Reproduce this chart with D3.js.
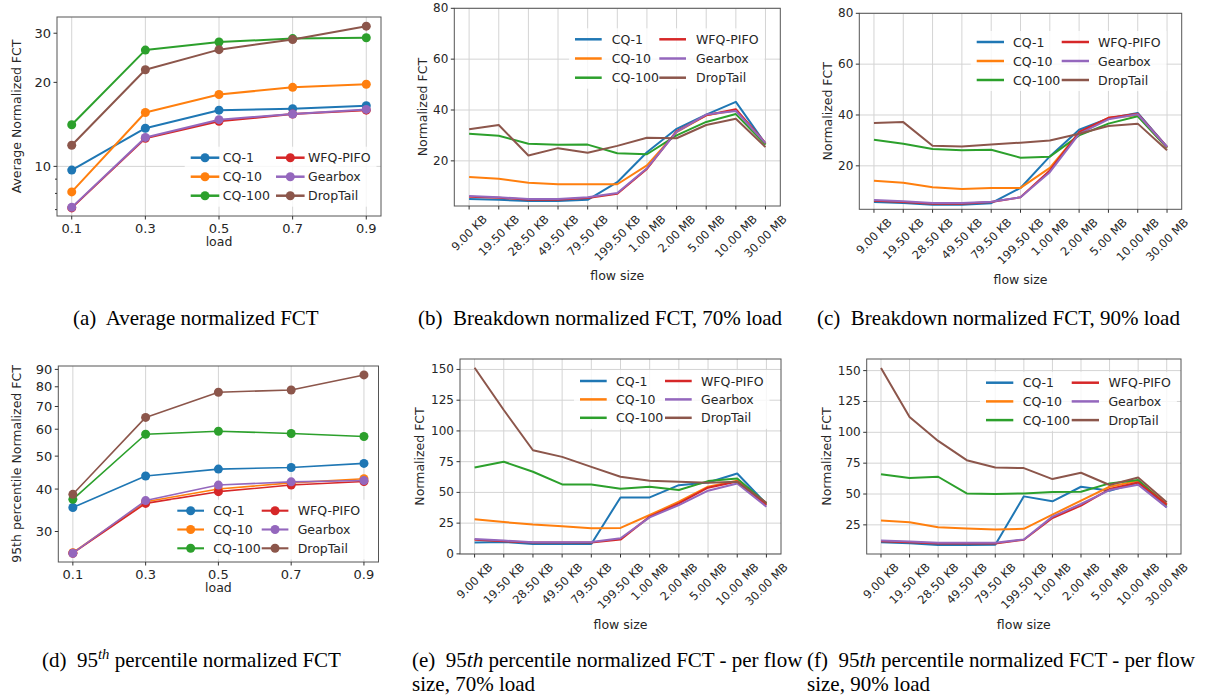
<!DOCTYPE html>
<html>
<head>
<meta charset="utf-8">
<script src="https://cdn.jsdelivr.net/npm/d3@7"></script>
<style>
  body { margin: 0; background: #fff; }
  svg { display: block; }
</style>
</head>
<body>
<svg id="fig" width="1208" height="696"></svg>
<script>
// series shared by every panel (legend order)
const seriesNames = ['CQ-1', 'CQ-10', 'CQ-100', 'WFQ-PIFO', 'Gearbox', 'DropTail'];
const seriesColors = ['#1f77b4', '#ff7f0e', '#2ca02c', '#d62728', '#9467bd', '#8c564b'];

const loads = [0.1, 0.3, 0.5, 0.7, 0.9];
const loadLabels = ['0.1', '0.3', '0.5', '0.7', '0.9'];
const flowSizes = ['9.00 KB', '19.50 KB', '28.50 KB', '49.50 KB', '79.50 KB', '199.50 KB',
    '1.00 MB', '2.00 MB', '5.00 MB', '10.00 MB', '30.00 MB'];

// (a) average normalized FCT vs load, one row per series
const avgFct = [
    [9.7, 13.7, 15.9, 16.1, 16.5],
    [8.1, 15.6, 18.1, 19.2, 19.7],
    [14.1, 26.1, 27.9, 28.7, 28.9],
    [7.1, 12.6, 14.5, 15.4, 15.9],
    [7.13, 12.7, 14.7, 15.4, 16.0],
    [11.9, 22.2, 26.2, 28.5, 31.8]
];

// (b) breakdown, 70% load
const breakdown70 = [
    [5.0, 4.7, 4.2, 4.2, 4.7, 11.6, 23.4, 32.6, 38.2, 43.2, 26.7],
    [13.7, 13.0, 11.4, 10.8, 10.8, 10.8, 18.2, 31.3, 37.9, 39.9, 26.7],
    [30.7, 29.9, 26.7, 26.3, 26.4, 23.0, 22.6, 30.0, 35.3, 38.4, 26.4],
    [5.9, 5.5, 4.7, 4.7, 5.4, 7.1, 16.8, 31.7, 37.9, 40.3, 27.0],
    [6.2, 5.7, 5.0, 5.0, 5.7, 7.4, 17.1, 31.4, 38.2, 39.6, 27.0],
    [32.4, 34.1, 22.1, 25.0, 23.2, 25.9, 29.1, 28.9, 34.1, 36.6, 25.4]
];

// (c) breakdown, 90% load
const breakdown90 = [
    [5.8, 5.4, 4.7, 4.7, 5.3, 11.3, 23.7, 34.2, 38.6, 40.8, 27.4],
    [14.1, 13.3, 11.6, 10.9, 11.3, 11.3, 19.2, 33.0, 38.9, 39.9, 27.1],
    [30.3, 28.7, 26.6, 26.1, 26.3, 23.2, 23.6, 32.0, 36.6, 39.5, 27.1],
    [6.3, 5.8, 5.1, 5.1, 5.8, 7.6, 18.2, 33.3, 38.9, 40.5, 27.4],
    [6.6, 6.1, 5.4, 5.4, 5.9, 7.6, 17.5, 32.6, 38.3, 40.3, 27.4],
    [36.8, 37.2, 27.9, 27.6, 28.4, 29.1, 30.0, 32.6, 35.7, 36.6, 26.1]
];

// (d) 95th percentile normalized FCT vs load
const p95Fct = [
    [35.3, 43.7, 45.8, 46.3, 47.6],
    [26.0, 36.7, 40.0, 41.7, 42.9],
    [37.3, 58.0, 59.2, 58.3, 57.1],
    [25.9, 36.3, 39.3, 41.1, 42.1],
    [25.9, 37.0, 41.1, 42.0, 42.4],
    [38.6, 65.0, 77.1, 78.3, 86.7]
];

// (e) 95th percentile per flow size, 70% load
const p95Flow70 = [
    [9.2, 9.7, 8.1, 8.1, 8.1, 45.9, 45.9, 55.9, 58.1, 65.4, 40.5],
    [28.1, 25.9, 23.8, 22.4, 20.8, 21.1, 31.6, 42.4, 54.6, 59.5, 41.1],
    [70.3, 74.9, 66.8, 56.5, 56.5, 53.0, 54.6, 51.9, 59.2, 61.4, 41.1],
    [11.4, 10.3, 9.2, 9.2, 9.2, 11.6, 30.3, 41.1, 53.8, 58.9, 39.7],
    [12.2, 10.8, 9.5, 9.5, 9.7, 12.7, 29.7, 39.7, 51.4, 57.3, 38.4],
    [151.4, 117.0, 84.3, 78.9, 70.8, 62.7, 59.5, 58.6, 57.8, 58.6, 41.6]
];

// (f) 95th percentile per flow size, 90% load
const p95Flow90 = [
    [11.0, 10.2, 8.6, 8.6, 8.9, 48.1, 44.1, 55.9, 52.7, 59.4, 39.2],
    [28.5, 27.2, 23.1, 22.0, 21.2, 21.8, 33.3, 44.6, 55.9, 60.8, 41.9],
    [66.1, 62.9, 64.0, 50.5, 50.0, 50.5, 51.6, 51.9, 58.6, 61.3, 40.6],
    [11.8, 11.0, 9.9, 9.9, 9.9, 12.9, 30.6, 40.6, 54.0, 59.4, 41.4],
    [12.4, 11.6, 10.5, 10.5, 10.5, 13.2, 31.7, 41.9, 53.2, 57.5, 39.2],
    [152.2, 112.4, 93.0, 77.4, 71.5, 71.0, 62.1, 67.2, 57.3, 63.4, 43.3]
];

// y ticks
const avgTicks = [10, 20, 30];
const avgMinorTicks = [7, 8, 9];
const p95Ticks = [30, 40, 50, 60, 70, 80, 90];
const breakdownTicks = [20, 40, 60, 80];
const p95FlowTicks = [0, 25, 50, 75, 100, 125, 150];

const FONT = '"DejaVu Sans", sans-serif';
const SERIF = '"Liberation Serif", "Times New Roman", serif';
const GRID = '#d4d4d4';
const INK = '#262626';

const svg = d3.select('#fig');
svg.append('rect').attr('width', 1208).attr('height', 696).attr('fill', '#fff');

const flowIdx = flowSizes.map((d, i) => i);

const panels = [
    {left: 57, right: 381, top: 17, bottom: 216, xs: loads, xLabels: loadLabels, xDomain: [0.06, 0.94],
     log: true, yDomain: [6.64, 34.3], yTicks: avgTicks, yMinor: avgMinorTicks, yGrid: [10],
     data: avgFct, markers: true, lw: 2, tickFont: 13, ylabel: 'Average Normalized FCT', ylabelX: 16,
     xlabel: 'load', xlabelY: 246,
     legend: {x: 190.7, y: 157.7, gap: 19, len: 28.6, textOff: 32, colOff: 85.3}},
    {left: 454.3, right: 780.3, top: 8.3, bottom: 206, xs: flowIdx, xLabels: flowSizes, xDomain: [-0.5, 10.5],
     log: false, yDomain: [2.25, 80], yTicks: breakdownTicks, yGrid: breakdownTicks,
     data: breakdown70, markers: false, lw: 2, tickFont: 12, rotate: true, ylabel: 'Normalized FCT', ylabelX: 422,
     xlabel: 'flow size', xlabelY: 280,
     legend: {x: 575, y: 39.3, gap: 19.2, len: 26.7, textOff: 36.7, colOff: 84.3}},
    {left: 859.3, right: 1181.7, top: 13.3, bottom: 209.3, xs: flowIdx, xLabels: flowSizes, xDomain: [-0.5, 10.5],
     log: false, yDomain: [2.9, 80], yTicks: breakdownTicks, yGrid: breakdownTicks,
     data: breakdown90, markers: false, lw: 2, tickFont: 12, rotate: true, ylabel: 'Normalized FCT', ylabelX: 827,
     xlabel: 'flow size', xlabelY: 284,
     legend: {x: 976.7, y: 42, gap: 19, len: 27.3, textOff: 36.3, colOff: 85}},
    {left: 58.3, right: 378.5, top: 366, bottom: 562, xs: loads, xLabels: loadLabels, xDomain: [0.06, 0.94],
     log: true, yDomain: [24.4, 92.1], yTicks: p95Ticks, yGrid: [],
     data: p95Fct, markers: true, lw: 1.6, tickFont: 13, ylabel: '95th percentile Normalized FCT', ylabelX: 16,
     xlabel: 'load', xlabelY: 592,
     legend: {x: 177.3, y: 510.7, gap: 18.8, len: 26.7, textOff: 36, colOff: 84.4}},
    {left: 460, right: 781, top: 359, bottom: 554, xs: flowIdx, xLabels: flowSizes, xDomain: [-0.5, 10.5],
     log: false, yDomain: [-0.1, 158.5], yTicks: p95FlowTicks, yGrid: p95FlowTicks,
     data: p95Flow70, markers: false, lw: 2, tickFont: 12, rotate: true, ylabel: 'Normalized FCT', ylabelX: 419,
     xlabel: 'flow size', xlabelY: 629,
     legend: {x: 580, y: 381, gap: 18.4, len: 26.7, textOff: 36, colOff: 85}},
    {left: 866.7, right: 1181, top: 359, bottom: 554, xs: flowIdx, xLabels: flowSizes, xDomain: [-0.5, 10.5],
     log: false, yDomain: [1.4, 159.4], yTicks: p95FlowTicks, yGrid: p95FlowTicks,
     data: p95Flow90, markers: false, lw: 2, tickFont: 12, rotate: true, ylabel: 'Normalized FCT', ylabelX: 826,
     xlabel: 'flow size', xlabelY: 629,
     legend: {x: 986, y: 382.7, gap: 18.7, len: 27.3, textOff: 36.7, colOff: 85.7}}
];

function drawPanel(p) {
    const g = svg.append('g');
    const x = d3.scaleLinear().domain(p.xDomain).range([p.left, p.right]);
    const y = (p.log ? d3.scaleLog() : d3.scaleLinear()).domain(p.yDomain).range([p.bottom, p.top]);
    const inY = v => v >= p.yDomain[0] && v <= p.yDomain[1];

    // grid
    g.selectAll('.vgrid').data(p.xs).join('line').attr('class', 'vgrid')
        .attr('x1', d => x(d)).attr('x2', d => x(d))
        .attr('y1', p.top).attr('y2', p.bottom)
        .attr('stroke', GRID).attr('stroke-width', 1);
    g.selectAll('.hgrid').data(p.yGrid.filter(inY)).join('line').attr('class', 'hgrid')
        .attr('x1', p.left).attr('x2', p.right)
        .attr('y1', d => y(d)).attr('y2', d => y(d))
        .attr('stroke', GRID).attr('stroke-width', 1);

    // series
    const line = d3.line().x((d, i) => x(p.xs[i])).y(d => y(d));
    p.data.forEach((vals, s) => {
        g.append('path').datum(vals)
            .attr('d', line).attr('fill', 'none')
            .attr('stroke', seriesColors[s]).attr('stroke-width', p.lw)
            .attr('stroke-linejoin', 'round');
        if (p.markers) {
            g.selectAll('.m' + s).data(vals).join('circle').attr('class', 'm' + s)
                .attr('cx', (d, i) => x(p.xs[i])).attr('cy', d => y(d))
                .attr('r', 4.5).attr('fill', seriesColors[s]);
        }
    });

    // frame
    g.append('rect')
        .attr('x', p.left).attr('y', p.top)
        .attr('width', p.right - p.left).attr('height', p.bottom - p.top)
        .attr('fill', 'none').attr('stroke', '#555').attr('stroke-width', 1);

    // x ticks
    g.selectAll('.xt').data(p.xs).join('line').attr('class', 'xt')
        .attr('x1', d => x(d)).attr('x2', d => x(d))
        .attr('y1', p.bottom).attr('y2', p.bottom + 3.5)
        .attr('stroke', '#333');
    if (p.rotate) {
        const fs = 11.5;
        p.xs.forEach((d, i) => {
            const t = g.append('text')
                .attr('font-family', FONT).attr('font-size', fs).attr('fill', INK)
                .attr('text-anchor', 'middle').attr('dominant-baseline', 'central')
                .text(p.xLabels[i]);
            const w = t.node().getComputedTextLength();
            const half = (w + fs) / (2 * Math.SQRT2);
            t.attr('transform', `translate(${x(d)},${p.bottom + 7 + half}) rotate(-45)`);
        });
    } else {
        g.selectAll('.xl').data(p.xs).join('text').attr('class', 'xl')
            .attr('x', d => x(d)).attr('y', p.bottom + 7 + p.tickFont * 0.76)
            .attr('text-anchor', 'middle')
            .attr('font-family', FONT).attr('font-size', p.tickFont).attr('fill', INK)
            .text((d, i) => p.xLabels[i]);
    }

    // y ticks
    const yt = p.yTicks.filter(inY);
    g.selectAll('.yt').data(yt).join('line').attr('class', 'yt')
        .attr('x1', p.left - 3.5).attr('x2', p.left)
        .attr('y1', d => y(d)).attr('y2', d => y(d))
        .attr('stroke', '#333');
    g.selectAll('.ym').data((p.yMinor || []).filter(inY)).join('line').attr('class', 'ym')
        .attr('x1', p.left - 2).attr('x2', p.left)
        .attr('y1', d => y(d)).attr('y2', d => y(d))
        .attr('stroke', '#333');
    g.selectAll('.yl').data(yt).join('text').attr('class', 'yl')
        .attr('x', p.left - 6).attr('y', d => y(d))
        .attr('text-anchor', 'end').attr('dominant-baseline', 'central')
        .attr('font-family', FONT).attr('font-size', p.tickFont).attr('fill', INK)
        .text(d => d);

    // axis labels
    g.append('text')
        .attr('transform', `translate(${p.ylabelX},${(p.top + p.bottom) / 2}) rotate(-90)`)
        .attr('text-anchor', 'middle').attr('dominant-baseline', 'central')
        .attr('font-family', FONT).attr('font-size', 12.5).attr('fill', INK)
        .text(p.ylabel);
    g.append('text')
        .attr('x', (p.left + p.right) / 2).attr('y', p.xlabelY)
        .attr('text-anchor', 'middle')
        .attr('font-family', FONT).attr('font-size', 12.5).attr('fill', INK)
        .text(p.xlabel);

    // legend, two columns of three
    const L = p.legend;
    const lg = g.append('g');
    const box = lg.append('rect')
        .attr('x', L.x - 6).attr('y', L.y - 11)
        .attr('height', L.gap * 2 + 22)
        .attr('fill', '#fff').attr('fill-opacity', 0.8);
    let maxRight = 0;
    seriesNames.forEach((name, s) => {
        const cx = L.x + (s >= 3 ? L.colOff : 0);
        const cy = L.y + (s % 3) * L.gap;
        lg.append('line')
            .attr('x1', cx).attr('x2', cx + L.len)
            .attr('y1', cy).attr('y2', cy)
            .attr('stroke', seriesColors[s]).attr('stroke-width', p.lw + 0.5);
        if (p.markers) {
            lg.append('circle').attr('cx', cx + L.len / 2).attr('cy', cy)
                .attr('r', 4.5).attr('fill', seriesColors[s]);
        }
        const t = lg.append('text')
            .attr('x', cx + L.textOff).attr('y', cy)
            .attr('dominant-baseline', 'central')
            .attr('font-family', FONT).attr('font-size', 12.5).attr('fill', INK)
            .text(name);
        maxRight = Math.max(maxRight, cx + L.textOff + t.node().getComputedTextLength());
    });
    box.attr('width', maxRight + 6 - (L.x - 6));
}

panels.forEach(drawPanel);

// captions
const capSize = 21;
function caption(x, y, parts) {
    const t = svg.append('text').attr('x', x).attr('y', y)
        .attr('font-family', SERIF).attr('font-size', capSize).attr('fill', '#000')
        .attr('xml:space', 'preserve');
    parts.forEach(pt => {
        const s = t.append('tspan').text(pt.text);
        if (pt.italic) s.attr('font-style', 'italic');
        if (pt.sup) s.attr('baseline-shift', 'super').attr('font-size', capSize * 0.7);
    });
    return t;
}

caption(73, 325, [{text: '(a)  Average normalized FCT'}]);
caption(418, 325, [{text: '(b)  Breakdown normalized FCT, 70% load'}]);
caption(817, 325, [{text: '(c)  Breakdown normalized FCT, 90% load'}]);
caption(42, 667, [{text: '(d)  95'}, {text: 'th', italic: true, sup: true}, {text: ' percentile normalized FCT'}]);
caption(412, 667, [{text: '(e)  95'}, {text: 'th', italic: true}, {text: ' percentile normalized FCT - per flow'}]);
caption(412, 691, [{text: 'size, 70% load'}]);
caption(807, 667, [{text: '(f)  95'}, {text: 'th', italic: true}, {text: ' percentile normalized FCT - per flow'}]);
caption(807, 691, [{text: 'size, 90% load'}]);
</script>
</body>
</html>
